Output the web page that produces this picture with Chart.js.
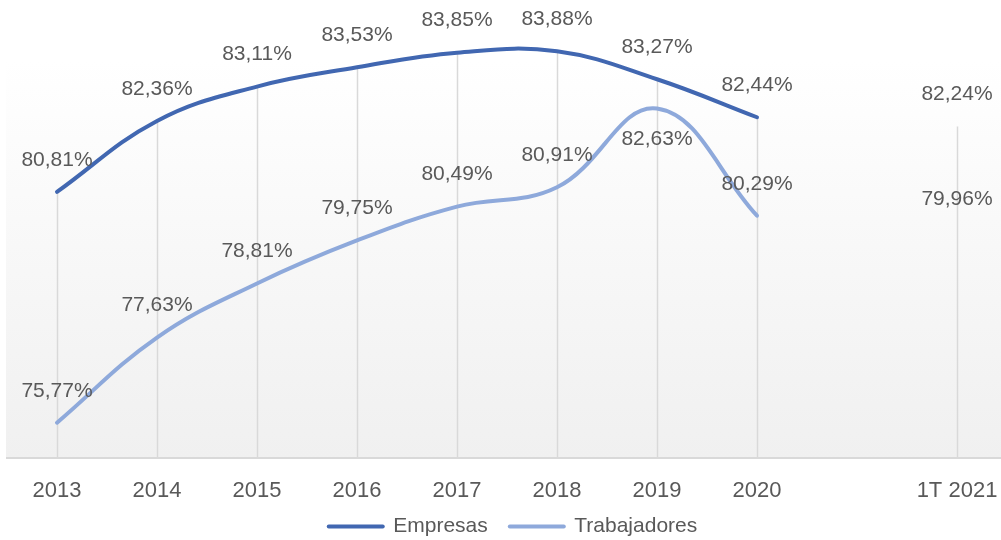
<!DOCTYPE html>
<html>
<head>
<meta charset="utf-8">
<script src="https://cdn.jsdelivr.net/npm/chart.js@4/dist/chart.umd.min.js"></script>
<style>
	html, body { margin:0; padding:0; background:#fff; overflow:hidden; }
	#wrap { position:relative; width:1001px; height:540px; overflow:hidden; }
</style>
</head>
<body>
<div id="wrap"><canvas id="c" width="1025" height="559"></canvas></div>
<script>
const anios = ['2013', '2014', '2015', '2016', '2017', '2018', '2019', '2020', '', '1T 2021'];
const empresas = [80.81, 82.36, 83.11, 83.53, 83.85, 83.88, 83.27, 82.44, null, 82.24];
const trabajadores = [75.77, 77.63, 78.81, 79.75, 80.49, 80.91, 82.63, 80.29, null, 79.96];
// etiqueta debajo del punto (solo Trabajadores 2019)
const debajo = [[], [6]];

const gris = '#595959';
const fuente = 'Liberation Sans, Arial, sans-serif';
const warna = ['#4167B1', '#8EA9DB'];

const fmt = v => v.toFixed(2).replace('.', ',') + '%';

const fondo = {
	id: 'fondo',
	beforeDraw: c => {
		const { ctx, chartArea: a } = c;
		const top = 60;
		const g = ctx.createLinearGradient(0, top, 0, a.bottom);
		g.addColorStop(0, '#ffffff');
		g.addColorStop(1, '#f0f0f0');
		ctx.save();
		ctx.fillStyle = g;
		ctx.fillRect(a.left - 1, top, c.width - a.left + 1, a.bottom - top);
		ctx.restore();
	}
};

const caidas = {
	id: 'caidas',
	beforeDatasetsDraw: c => {
		const { ctx, chartArea: a, scales: { x, y } } = c;
		ctx.save();
		ctx.strokeStyle = '#d9d9d9';
		ctx.lineWidth = 1.5;
		anios.forEach((l, i) => {
			const vals = [empresas[i], trabajadores[i]].filter(v => v != null);
			if (!vals.length) return;
			const px = Math.round(x.getPixelForValue(i)) + 0.5;
			ctx.beginPath();
			ctx.moveTo(px, y.getPixelForValue(Math.max(...vals)));
			ctx.lineTo(px, a.bottom);
			ctx.stroke();
		});
		ctx.restore();
	}
};

const etiquetas = {
	id: 'etiquetas',
	afterDatasetsDraw: c => {
		const ctx = c.ctx;
		ctx.save();
		ctx.font = '21px ' + fuente;
		ctx.fillStyle = gris;
		ctx.textAlign = 'center';
		ctx.textBaseline = 'middle';
		c.data.datasets.forEach((d, k) => {
			c.getDatasetMeta(k).data.forEach((p, i) => {
				if (d.data[i] == null) return;
				const dy = debajo[k].includes(i) ? 31 : -32;
				ctx.fillText(fmt(d.data[i]), p.x, p.y + dy);
			});
		});
		ctx.restore();
	}
};

// sube la leyenda para que quede pegada a los años
const mueveLeyenda = {
	id: 'mueveLeyenda',
	afterLayout: c => {
		c.legend.top -= 12;
		c.legend.bottom -= 12;
		c.legend.left += 6;
		c.legend.right += 6;
	}
};

new Chart(document.getElementById('c'), {
	type: 'line',
	data: {
		labels: anios,
		datasets: [{
			label: 'Empresas',
			data: empresas,
			borderColor: warna[0],
			backgroundColor: warna[0],
			borderWidth: 4,
			borderCapStyle: 'round',
			pointRadius: 0,
			tension: 0.4,
			fill: false,
		}, {
			label: 'Trabajadores',
			data: trabajadores,
			borderColor: warna[1],
			backgroundColor: warna[1],
			borderWidth: 4,
			borderCapStyle: 'round',
			pointRadius: 0,
			tension: 0.4,
			fill: false,
		}]
	},
	options: {
		responsive: false,
		animation: false,
		clip: false,
		layout: { padding: { left: 7, right: 18, top: 0, bottom: 0 } },
		plugins: {
			tooltip: { enabled: false },
			legend: {
				position: 'bottom',
				labels: {
					color: gris,
					font: { size: 21, family: fuente },
					usePointStyle: true,
					pointStyleWidth: 54,
					boxHeight: 4,
					padding: 22,
					generateLabels: c => c.data.datasets.map((d, i) => ({
						text: d.label,
						pointStyle: 'line',
						fillStyle: d.borderColor,
						strokeStyle: d.borderColor,
						lineWidth: 4,
						lineCap: 'round',
						fontColor: gris,
						datasetIndex: i,
					}))
				}
			}
		},
		scales: {
			x: {
				offset: true,
				grid: { display: false, drawTicks: false },
				border: { display: true, color: '#d9d9d9', width: 2 },
				ticks: { color: gris, font: { size: 22, family: fuente }, padding: 20, maxRotation: 0, autoSkip: false },
				afterFit: s => { s.height = 48 }
			},
			y: {
				display: false,
				min: 75,
				max: 85,
			}
		}
	},
	plugins: [fondo, caidas, etiquetas, mueveLeyenda]
});
</script>
</body>
</html>
